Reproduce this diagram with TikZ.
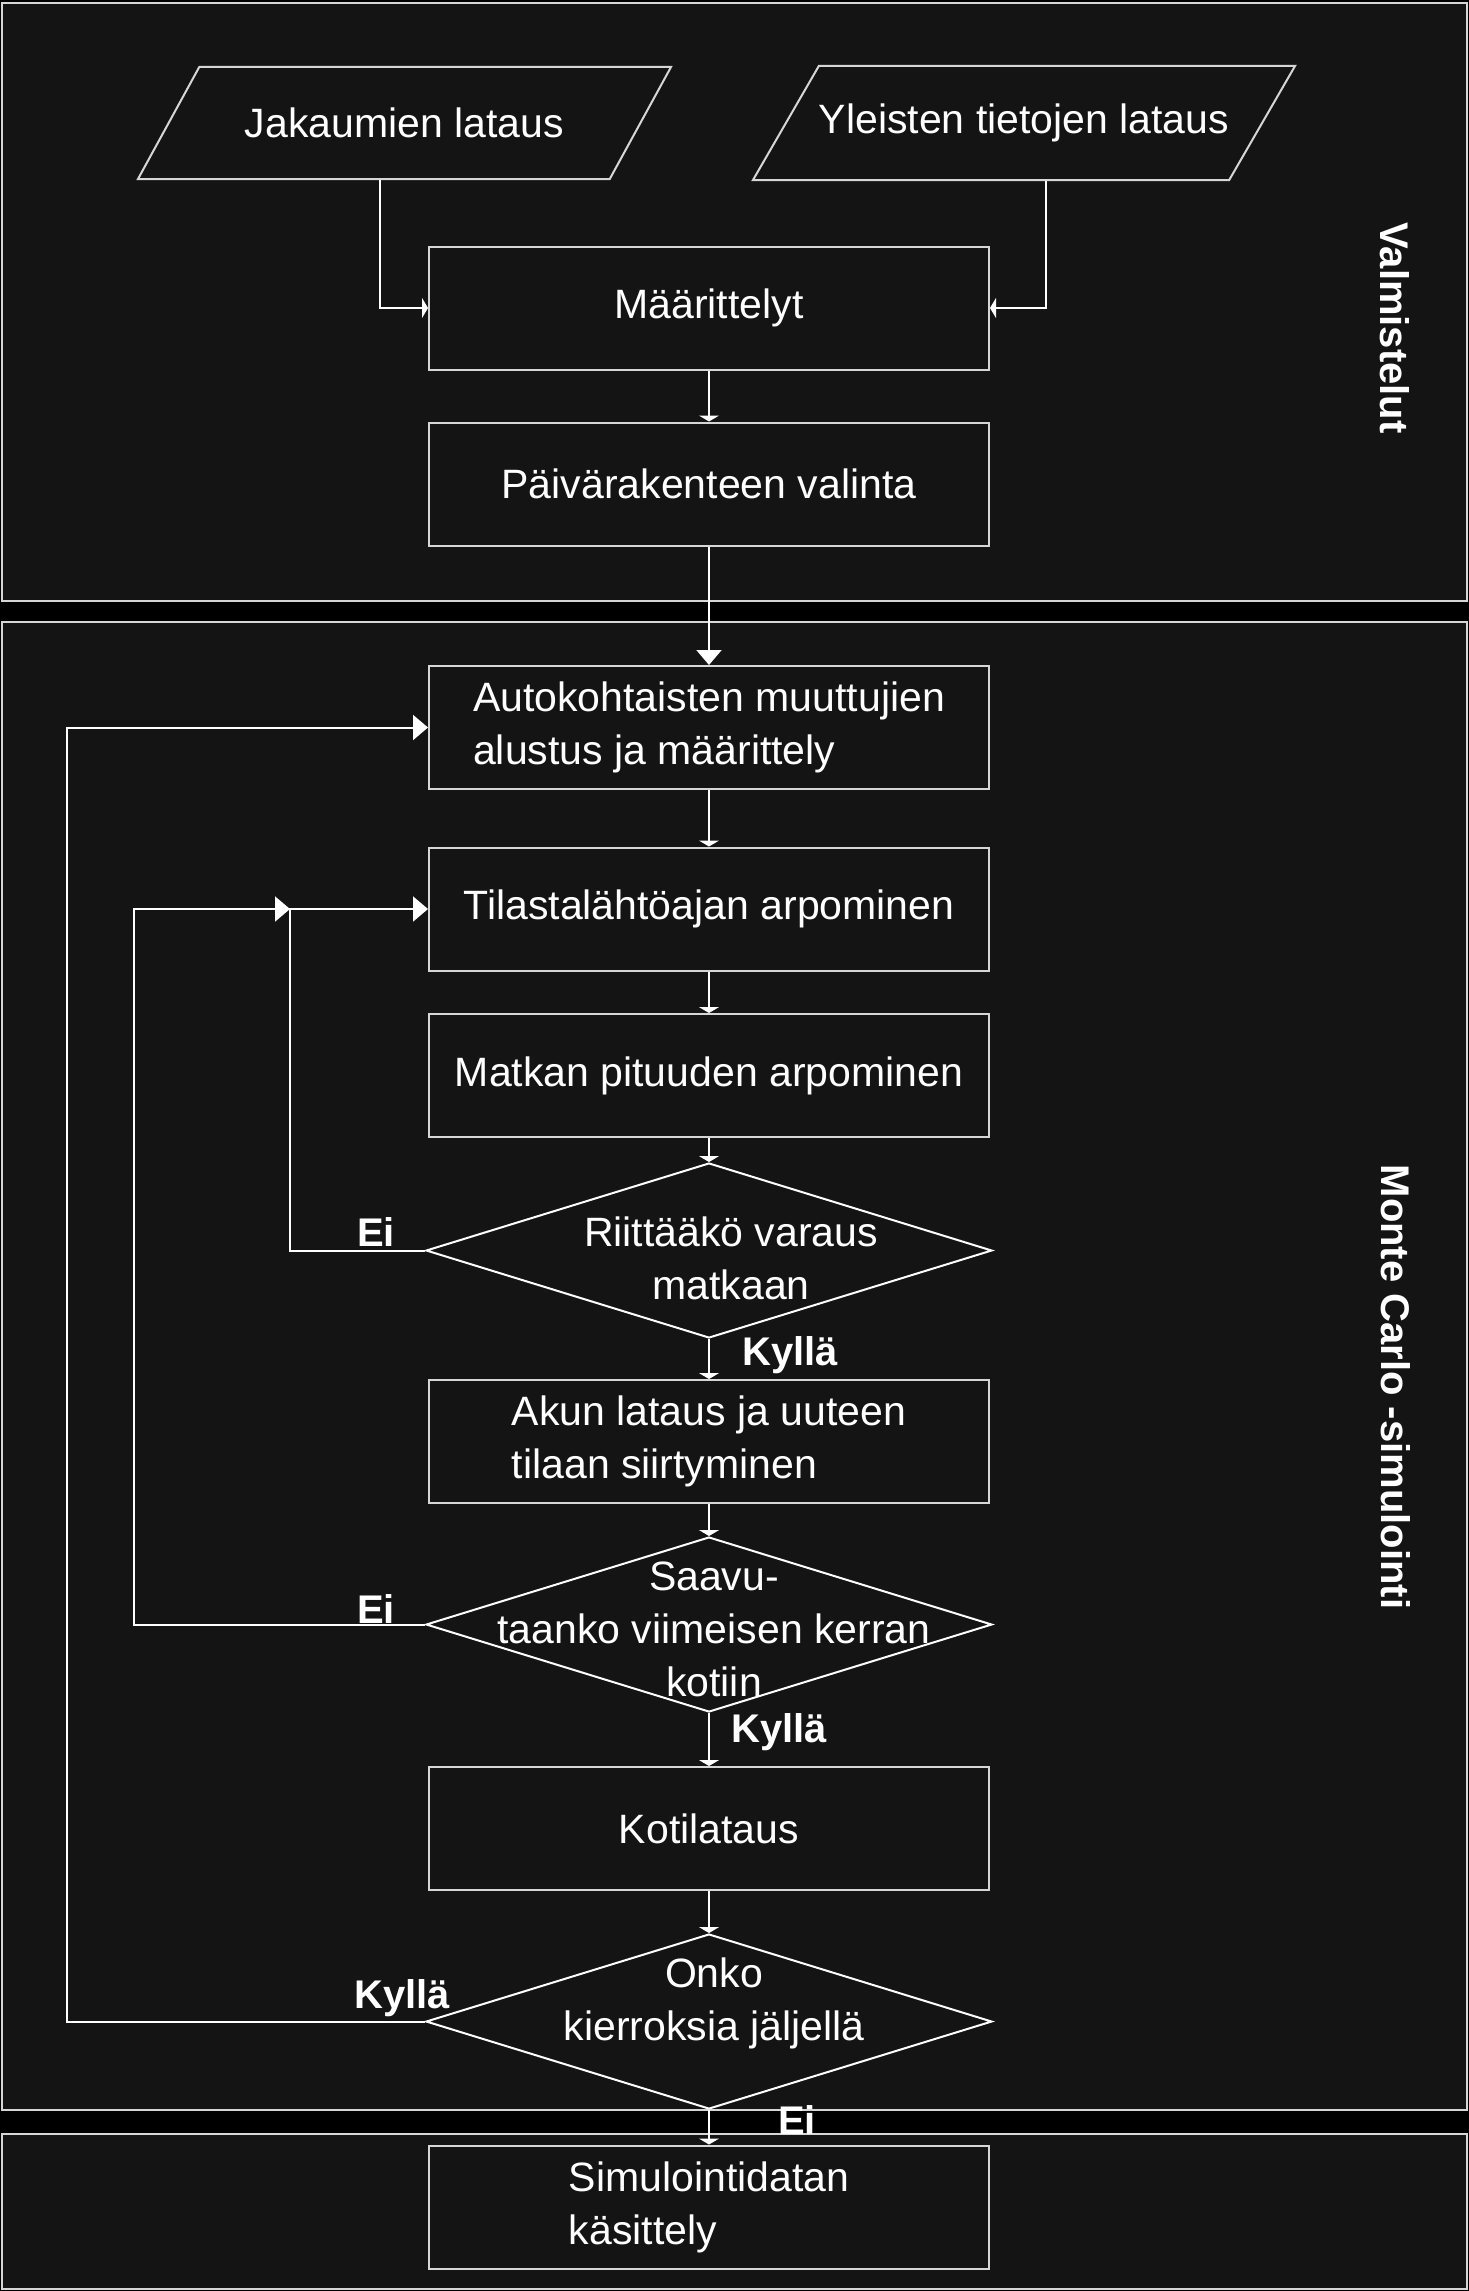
\documentclass[tikz,border=0pt]{standalone}
\usepackage{fontspec}
\setmainfont{Liberation Sans}
\usetikzlibrary{shapes.geometric, arrows.meta}
\definecolor{mctausta}{HTML}{000000}
\definecolor{mcpaneeli}{HTML}{141414}
\definecolor{mcreuna}{HTML}{D6D6D6}
\definecolor{mcviiva}{HTML}{FFFFFF}
\newcommand{\tekstikoko}{\fontsize{41}{53}\selectfont}
\newcommand{\merkkikoko}{\fontsize{40}{48}\selectfont\bfseries}

\begin{document}
\begin{tikzpicture}[x=1pt, y=-1pt,
    paneeli/.style={draw=mcreuna, fill=mcpaneeli, line width=2pt},
    laatikko/.style={draw=mcreuna, fill=mcpaneeli, line width=2pt, text=mcviiva,
      minimum width=560pt, minimum height=123pt, inner sep=0pt, font=\tekstikoko},
    syote/.style={trapezium, trapezium left angle=60, trapezium right angle=120,
      trapezium stretches body, draw=mcreuna, fill=mcpaneeli, line width=2pt,
      text=mcviiva, minimum width=533pt, minimum height=112pt, inner xsep=0pt,
      inner ysep=38pt, font=\tekstikoko},
    paatos/.style={diamond, draw=mcviiva, fill=mcpaneeli, line width=2pt,
      minimum width=566pt, minimum height=175pt, inner sep=0pt},
    teksti/.style={text=mcviiva, font=\tekstikoko, align=center, inner sep=0pt},
    merkki/.style={text=mcviiva, font=\merkkikoko, inner sep=0pt},
    sivu/.style={text=mcviiva, font=\merkkikoko, rotate=-90, inner sep=0pt},
    nuoli/.style={draw=mcviiva, line width=2pt, -{Triangle[length=6pt, width=20pt]}},
    isonuoli/.style={draw=mcviiva, line width=2pt, -{Triangle[length=15pt, width=25pt]}}]
  \useasboundingbox (0,0) rectangle (1469,2291);
  \fill[mctausta] (0,0) rectangle (1469,2291);
  % taustapaneelit
  \draw[paneeli] (2,3) rectangle (1467,601);
  \draw[paneeli] (2,622) rectangle (1467,2110);
  \draw[paneeli] (2,2134) rectangle (1467,2289);
  \node[sivu] (valm-nimi) at (1395,328) {Valmistelut};
  \node[sivu] (mont-nimi) at (1396,1387) {Monte Carlo -simulointi};
  % valmistelut
  \node[syote] (jak) at (404.5,123) {Jakaumien lataus};
  \node[syote] (yle) at (1024,123) {Yleisten tietojen lataus};
  \node[laatikko] (maar) at (709,308) {Määrittelyt};
  \node[laatikko] (paiva) at (709,484) {Päivärakenteen valinta};
  % simulointi
  \node[laatikko, align=left] (auto) at (709,727.5) {Autokohtaisten muuttujien\\alustus ja määrittely};
  \node[laatikko] (tila) at (709,909) {Tilastalähtöajan arpominen};
  \node[laatikko] (matk) at (709,1075.5) {Matkan pituuden arpominen};
  \node[paatos] (riit) at (709,1250.5) {};
  \node[teksti] (riit-teksti) at (731,1258) {Riittääkö varaus\\matkaan};
  \node[laatikko, align=left] (akun) at (709,1441.5) {Akun lataus ja uuteen\\tilaan siirtyminen};
  \node[paatos] (saav) at (709,1624.5) {};
  \node[teksti] (saav-teksti) at (714,1629) {Saavu-\\taanko viimeisen kerran\\kotiin};
  \node[laatikko] (koti) at (709,1828.5) {Kotilataus};
  \node[paatos] (onko) at (709,2021.5) {};
  \node[teksti] (onko-teksti) at (714,2003) {Onko\\kierroksia jäljellä};
  % lopuksi
  \node[laatikko, align=left] (simu) at (709,2207) {Simulointidatan\\käsittely};
  % yhteydet
  \draw[nuoli] ([xshift=-25pt]jak.south) |- (maar.west);
  \draw[nuoli] ([xshift=22pt]yle.south) |- (maar.east);
  \draw[nuoli] (maar) -- (paiva);
  \draw[isonuoli] (paiva) -- (auto);
  \draw[nuoli] (auto) -- (tila);
  \draw[nuoli] (tila) -- (matk);
  \draw[nuoli] (matk) -- (riit);
  \draw[nuoli] (riit) -- (akun);
  \draw[nuoli] (akun) -- (saav);
  \draw[nuoli] (saav) -- (koti);
  \draw[nuoli] (koti) -- (onko);
  \draw[nuoli] (onko) -- (simu);
  % silmukat
  \coordinate (liit) at (290,909);
  \draw[isonuoli] (riit.west) -| (liit) -- (tila.west);
  \draw[isonuoli] (saav.west) -- ++(-291,0) |- (liit);
  \draw[isonuoli] (onko.west) -- ++(-358,0) |- (auto.west);
  \node[merkki] (ei-riit) at (376,1232) {Ei};
  \node[merkki] (kylla-riit) at (790,1355) {Kyllä};
  \node[merkki] (ei-saav) at (376,1609) {Ei};
  \node[merkki] (kylla-saav) at (779,1732) {Kyllä};
  \node[merkki] (kylla-onko) at (402,1998) {Kyllä};
  \node[merkki] (ei-onko) at (797,2120) {Ei};
\end{tikzpicture}
\end{document}
